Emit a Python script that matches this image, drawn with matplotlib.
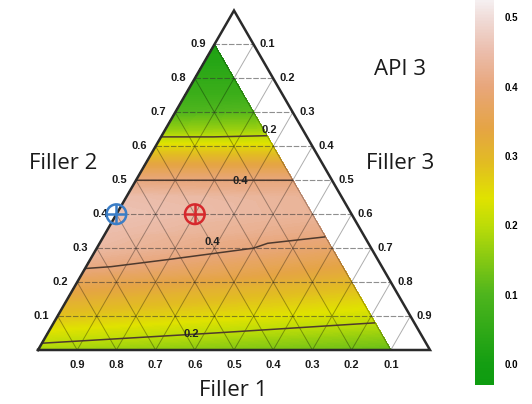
import numpy as np
import matplotlib
matplotlib.use('Agg')
import matplotlib.pyplot as plt
import matplotlib.tri as mtri
from matplotlib.colors import LinearSegmentedColormap, Normalize
import matplotlib.colorbar as mcolorbar

# ---- data ----
filler2_levels = [0.0, 0.05, 0.1, 0.15, 0.2, 0.25, 0.3, 0.35, 0.4, 0.45,
                  0.5, 0.55, 0.6, 0.65, 0.7, 0.75, 0.8, 0.85, 0.9]
resp_left = [0.18, 0.23, 0.28, 0.32, 0.36, 0.41, 0.44, 0.45, 0.46, 0.45,
             0.40, 0.33, 0.25, 0.16, 0.10, 0.07, 0.05, 0.03, 0.02]
resp_right = [0.12, 0.17, 0.22, 0.26, 0.30, 0.34, 0.38, 0.41, 0.43, 0.43,
              0.40, 0.33, 0.25, 0.17, 0.11, 0.07, 0.05, 0.03, 0.02]
min_filler1 = 0.1

tick_vals = [0.1, 0.2, 0.3, 0.4, 0.5, 0.6, 0.7, 0.8, 0.9]
cbar_ticks = [0.0, 0.1, 0.2, 0.3, 0.4, 0.5]
cbar_min, cbar_max = -0.03, 0.525

marked = {'blue': (0.6, 0.4, 0.0), 'red': (0.4, 0.4, 0.2)}
marker_colors = {'blue': '#3a7dc6', 'red': '#d6282c'}

contour_labels = [('0.2', 0.62, 0.28), ('0.4', 0.47, 0.28),
                  ('0.4', 0.29, 0.30), ('0.2', 0.02, 0.38)]

H = np.sqrt(3) / 2


def tern(f1, f2, f3):
    return f3 + 0.5 * f2, f2 * H


def pos(v):
    return (v - cbar_min) / (cbar_max - cbar_min)


cmap = LinearSegmentedColormap.from_list('api', [
    (0.0, '#0e9c10'),
    (pos(0.0), '#149e12'),
    (pos(0.1), '#4eb51d'),
    (pos(0.2), '#bcdc08'),
    (pos(0.24), '#e0e200'),
    (pos(0.29), '#e2bc22'),
    (pos(0.34), '#e5a444'),
    (pos(0.40), '#e8a67a'),
    (pos(0.45), '#ebbcaa'),
    (pos(0.50), '#f0dcd8'),
    (1.0, '#f5eff0'),
])
norm = Normalize(cbar_min, cbar_max)

fig = plt.figure(figsize=(5.32, 4.04), dpi=100)
ax = fig.add_axes([0, 0, 1, 1])
sc = 392.0
ax.set_xlim(-38 / sc, (532 - 38) / sc)
ax.set_ylim(-(404 - 350) / sc, 350 / sc)
ax.axis('off')

# surface points: left edge (filler3 = 0) and right limit (filler1 = 0.1)
xs, ys, zs = [], [], []
for b, zl, zr in zip(filler2_levels, resp_left, resp_right):
    x, y = tern(1 - b, b, 0.0)
    xs.append(x); ys.append(y); zs.append(zl)
    c = 1 - min_filler1 - b
    if c > 1e-9:
        x, y = tern(min_filler1, b, c)
        xs.append(x); ys.append(y); zs.append(zr)
tri = mtri.Triangulation(xs, ys)
cf = ax.tricontourf(tri, zs, levels=np.linspace(cbar_min, cbar_max, 160),
                    cmap=cmap, norm=norm, zorder=1)
cf.set_edgecolor('face')
cf.set_linewidth(0.3)
ax.tricontour(tri, zs, levels=[0.2, 0.4], colors='#4e3a2e', linewidths=1.1, zorder=3)

for txt, b, c in contour_labels:
    x, y = tern(1 - b - c, b, c)
    ax.text(x, y + 0.012, txt, fontsize=8, fontweight='bold', color='#222222',
            family='Liberation Sans', ha='center', va='bottom', zorder=5)

# grid
for v in tick_vals:
    # constant filler2 (horizontal)
    x0, y0 = tern(1 - v, v, 0)
    x1, y1 = tern(0, v, 1 - v)
    ax.plot([x0, x1], [y0, y1], color='#333333', lw=0.8, alpha=0.55,
            ls=(0, (5, 1.5)), zorder=2)
    # constant filler1
    x0, y0 = tern(v, 1 - v, 0)
    x1, y1 = tern(v, 0, 1 - v)
    ax.plot([x0, x1], [y0, y1], color='#000000', lw=0.7, alpha=0.32, zorder=2)
    # constant filler3
    x0, y0 = tern(1 - v, 0, v)
    x1, y1 = tern(0, 1 - v, v)
    ax.plot([x0, x1], [y0, y1], color='#000000', lw=0.7, alpha=0.32, zorder=2)

# outline
cx, cy = zip(tern(1, 0, 0), tern(0, 0, 1), tern(0, 1, 0), tern(1, 0, 0))
ax.plot(cx, cy, color='#2a2a2a', lw=1.8, solid_joinstyle='miter', zorder=4)

# tick labels
tk = dict(fontsize=8, fontweight='bold', family='Liberation Sans', color='#1a1a1a')
for v in tick_vals:
    x, y = tern(v, 0, 1 - v)
    ax.text(x, y - 0.025, f'{v:.1f}', ha='center', va='top', **tk)
    x, y = tern(1 - v, v, 0)
    ax.text(x - 0.022, y, f'{v:.1f}', ha='right', va='center', **tk)
    x, y = tern(0, 1 - v, v)
    ax.text(x + 0.016, y, f'{v:.1f}', ha='left', va='center', **tk)

# marked compositions
for key, (f1, f2, f3) in marked.items():
    x, y = tern(f1, f2, f3)
    ax.scatter([x], [y], s=200, facecolors='none', edgecolors=marker_colors[key],
               linewidths=1.8, zorder=6)
    ax.scatter([x], [y], s=200, marker='+', color=marker_colors[key],
               linewidths=1.8, zorder=6)

lab = dict(fontsize=16, family='Open Sans', color='#1a1a1a', ha='center', va='center')
ax.text(63 / sc - 38 / sc, (350 - 163) / sc, 'Filler 2', **lab)
ax.text(400 / sc - 38 / sc, (350 - 163) / sc, 'Filler 3', **lab)
ax.text(400 / sc - 38 / sc, (350 - 69) / sc, 'API 3', **lab)
ax.text(233 / sc - 38 / sc, (350 - 391) / sc, 'Filler 1', **lab)

# colorbar
cax = fig.add_axes([475 / 532, 19 / 404, 19 / 532, 385 / 404])
cb = mcolorbar.ColorbarBase(cax, cmap=cmap, norm=norm, orientation='vertical')
cb.outline.set_visible(False)
cb.set_ticks(cbar_ticks)
cb.set_ticklabels([f'{t:.1f}' for t in cbar_ticks])
cax.tick_params(length=0, pad=8)
for t in cax.get_yticklabels():
    t.set_fontsize(7)
    t.set_fontweight('bold')
    t.set_family('Liberation Sans')

fig.savefig('out.png', dpi=100)
